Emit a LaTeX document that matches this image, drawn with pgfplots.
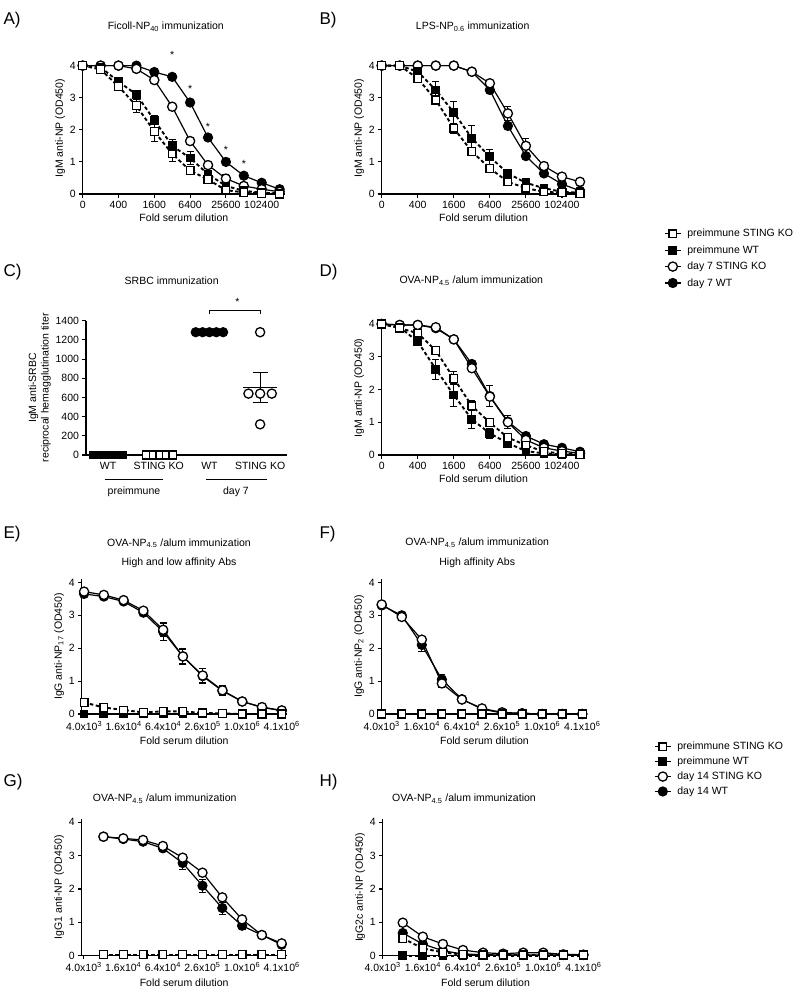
\documentclass[border=0pt]{standalone}
\usepackage{fontspec}
\setmainfont{Liberation Sans}
\usepackage{pgfplots}
\usepackage{pgfplotstable}
\pgfplotsset{compat=1.18}

\newcommand\fs{\fontsize{10.5}{12.5}\selectfont}

\pgfplotsset{
  base/.style={scale only axis, anchor=south west, clip=false,
    axis lines=left, axis line style={-, line width=1.1pt},
    every tick/.style={black, line width=1.1pt}, tick align=outside,
    major tick length=3.5pt,
    tick label style={font=\fs}, label style={font=\fs},
    /pgf/number format/assume math mode=true,
    /pgf/number format/set thousands separator={}},
  od/.style={base, ymin=0, ymax=4.1, ytick={0,1,2,3,4},
    xmin=0, xmax=11.3, xtick={0,2,4,6,8,10},
    xticklabels={0,400,1600,6400,25600,102400},
    xlabel={Fold serum dilution}, xlabel style={yshift=1pt},
    ylabel style={yshift=-2pt}},
  odl/.style={base, ymin=0, ymax=4.1, ytick={0,1,2,3,4},
    xmax=10.25, xtick={0,2,4,6,8,10},
    xticklabels={4.0x10\textsuperscript{3},1.6x10\textsuperscript{4},6.4x10\textsuperscript{4},2.6x10\textsuperscript{5},1.0x10\textsuperscript{6},4.1x10\textsuperscript{6}},
    xlabel={Fold serum dilution}, ylabel style={yshift=-2pt}},
  dwt/.style={black, solid, line width=1.2pt, mark=*, mark size=4.6pt,
    mark options={solid, fill=black, line width=1pt}},
  dko/.style={black, solid, line width=1.2pt, mark=*, mark size=4.6pt,
    mark options={solid, fill=white, line width=1.3pt}},
  pwt/.style={black, line width=1.9pt, dash pattern=on 3.5pt off 2.5pt,
    mark=square*, mark size=3.9pt, mark options={solid, fill=black, line width=1pt}},
  pko/.style={black, line width=1.9pt, dash pattern=on 3.5pt off 2.5pt,
    mark=square*, mark size=3.9pt, mark options={solid, fill=white, line width=1.3pt}},
  eb/.style={error bars/.cd, y dir=both, y explicit,
    error bar style={solid, line width=1pt},
    error mark options={rotate=90, mark size=3.5pt, line width=1pt, solid}},
  leg/.style={hide axis, scale only axis, width=1pt, height=1pt,
    xmin=0, xmax=1, ymin=0, ymax=1, anchor=north west,
    legend style={draw=none, fill=none, at={(0,1)}, anchor=north west,
      font=\fs, inner sep=0pt, column sep=4pt, cells={anchor=west}},
    legend image code/.code={\draw[solid, line width=1.2pt, mark repeat=2, mark phase=2]
      plot coordinates {(0pt,0pt) (8pt,0pt) (16pt,0pt)};}},
}

\newcommand\four[1]{%
  \addplot[dwt, eb] table[x=x, y=dwt, y error=edwt] {#1};
  \addplot[dko, eb] table[x=x, y=dko, y error=edko] {#1};
  \addplot[pwt, eb] table[x=x, y=pwt, y error=epwt] {#1};
  \addplot[pko, eb] table[x=x, y=pko, y error=epko] {#1};
}

% IgM, Ficoll-NP40
\pgfplotstableread{
x pko epko pwt epwt dko edko dwt edwt
0 4.00 0 4.00 0 4.00 0 4.00 0
1 3.88 0.03 3.95 0 4.00 0 4.00 0
2 3.35 0.06 3.50 0.05 4.00 0 4.00 0
3 2.75 0.20 3.10 0.10 3.90 0.03 4.00 0
4 1.95 0.30 2.30 0.15 3.55 0.03 3.80 0.03
5 1.25 0.25 1.50 0.20 2.72 0.05 3.65 0.03
6 0.73 0.10 1.12 0.20 1.65 0.03 2.85 0.08
7 0.45 0.05 0.62 0.10 0.90 0.04 1.76 0.06
8 0.12 0.05 0.25 0.08 0.48 0.12 1.00 0.04
9 0.05 0.02 0.10 0.03 0.25 0.06 0.57 0.03
10 0.02 0 0.04 0.02 0.15 0.03 0.35 0.03
11 0.00 0 0.02 0 0.07 0.02 0.15 0.02
}\dataA

% IgM, LPS-NP0.6
\pgfplotstableread{
x pko epko pwt epwt dko edko dwt edwt
0 4.00 0 4.00 0 4.00 0 4.00 0
1 4.00 0 4.00 0 4.00 0 4.00 0
2 3.60 0.05 3.81 0.05 4.00 0 4.00 0
3 2.93 0.08 3.24 0.28 4.00 0 4.00 0
4 2.05 0.15 2.54 0.34 4.00 0 4.00 0
5 1.32 0.10 1.74 0.38 3.81 0.03 3.81 0.03
6 0.80 0.05 1.16 0.23 3.45 0.08 3.24 0.05
7 0.38 0.04 0.64 0.05 2.51 0.23 2.12 0.05
8 0.18 0.03 0.35 0.04 1.50 0.23 1.18 0.05
9 0.07 0.02 0.18 0.03 0.87 0.05 0.64 0.04
10 0.04 0 0.07 0.02 0.54 0.04 0.31 0.03
11 0.02 0 0.04 0 0.38 0.03 0.10 0.02
}\dataB

% IgM, OVA-NP4.5/alum
\pgfplotstableread{
x pko epko pwt epwt dko edko dwt edwt
0 4.00 0 4.00 0 4.00 0 4.00 0
1 3.87 0.05 3.90 0.05 3.97 0 3.97 0
2 3.72 0.10 3.46 0.08 3.97 0 3.97 0
3 3.19 0.10 2.62 0.30 3.90 0.03 3.87 0.03
4 2.34 0.20 1.83 0.35 3.53 0.05 3.53 0.05
5 1.50 0.15 1.09 0.28 2.65 0.08 2.78 0.08
6 0.99 0.06 0.66 0.15 1.78 0.10 1.80 0.33
7 0.53 0.05 0.36 0.08 1.00 0.08 1.02 0.20
8 0.30 0.04 0.12 0.04 0.46 0.05 0.58 0.04
9 0.10 0.02 0.05 0.02 0.22 0.03 0.33 0.03
10 0.05 0 0.02 0 0.12 0.02 0.22 0.02
11 0.02 0 0.00 0 0.05 0 0.10 0.02
}\dataD

% IgG anti-NP17
\pgfplotstableread{
x pko epko pwt epwt dko edko dwt edwt
0 0.35 0.03 0.00 0 3.72 0.05 3.65 0.05
1 0.20 0.02 0.00 0 3.62 0.04 3.57 0.04
2 0.12 0.02 0.00 0 3.46 0.05 3.42 0.05
3 0.05 0.01 0.00 0 3.14 0.08 3.08 0.10
4 0.08 0.01 0.00 0 2.56 0.20 2.50 0.27
5 0.08 0.01 0.00 0 1.75 0.25 1.75 0.22
6 0.03 0 0.00 0 1.17 0.20 1.15 0.22
7 0.02 0 0.00 0 0.72 0.16 0.70 0.15
8 0.00 0 0.00 0 0.38 0.04 0.38 0.04
9 0.00 0 0.00 0 0.21 0.03 0.20 0.03
10 0.00 0 0.00 0 0.11 0.02 0.10 0.02
}\dataE

% IgG anti-NP2
\pgfplotstableread{
x pko epko pwt epwt dko edko dwt edwt
0 0 0 0 0 3.33 0.03 3.30 0.03
1 0 0 0 0 2.95 0.05 3.00 0.05
2 0 0 0 0 2.26 0.10 2.10 0.20
3 0 0 0 0 0.93 0.12 1.05 0.15
4 0 0 0 0 0.44 0.03 0.45 0.03
5 0 0 0 0 0.17 0.02 0.15 0.02
6 0 0 0 0 0.05 0 0.03 0
7 0 0 0 0 0.02 0 0.02 0
8 0 0 0 0 0 0 0 0
9 0 0 0 0 0 0 0 0
10 0 0 0 0 0 0 0 0
}\dataF

% IgG1 anti-NP
\pgfplotstableread{
x pko epko pwt epwt dko edko dwt edwt
1 0.03 0 0.02 0 3.57 0.03 3.57 0.03
2 0.03 0 0.02 0 3.52 0.03 3.50 0.03
3 0.03 0 0.02 0 3.47 0.03 3.42 0.03
4 0.03 0 0.02 0 3.29 0.04 3.22 0.04
5 0.03 0 0.02 0 2.94 0.06 2.78 0.20
6 0.03 0 0.02 0 2.49 0.05 2.10 0.20
7 0.03 0 0.02 0 1.75 0.05 1.43 0.18
8 0.03 0 0.02 0 1.09 0.04 0.90 0.10
9 0.03 0 0.02 0 0.62 0.03 0.62 0.03
10 0.03 0 0.02 0 0.37 0.03 0.33 0.03
}\dataG

% IgG2c anti-NP
\pgfplotstableread{
x pko epko pwt epwt dko edko dwt edwt
1 0.52 0.05 0.00 0 0.99 0.10 0.68 0.08
2 0.22 0.03 0.00 0 0.57 0.03 0.35 0.03
3 0.10 0.02 0.00 0 0.35 0.03 0.15 0.02
4 0.03 0 0.00 0 0.17 0.02 0.05 0
5 0.02 0 0.00 0 0.09 0 0.03 0
6 0.02 0 0.00 0 0.06 0 0.02 0
7 0.02 0 0.00 0 0.09 0 0.02 0
8 0.02 0 0.00 0 0.09 0 0.02 0
9 0.02 0 0.00 0 0.04 0 0.02 0
10 0.02 0 0.00 0 0.03 0 0.02 0
}\dataH

\begin{document}
\begin{tikzpicture}
\path[use as bounding box] (0,0) rectangle (800pt,-996pt);

% panel letters and titles
\begin{scope}[font=\fontsize{17}{19}\selectfont]
\node[anchor=west] at (0pt,-20pt) {A)};
\node[anchor=west] at (316pt,-20pt) {B)};
\node[anchor=west] at (0pt,-272pt) {C)};
\node[anchor=west] at (316pt,-272pt) {D)};
\node[anchor=west] at (0pt,-534pt) {E)};
\node[anchor=west] at (316pt,-534pt) {F)};
\node[anchor=west] at (0pt,-782pt) {G)};
\node[anchor=west] at (316pt,-782pt) {H)};
\end{scope}
\begin{scope}[font=\fs]
\node at (165.8pt,-26.7pt) {Ficoll-NP\textsubscript{40} immunization};
\node at (472.7pt,-27pt) {LPS-NP\textsubscript{0.6} immunization};
\node at (171.7pt,-280.7pt) {SRBC immunization};
\node at (471.3pt,-280.7pt) {OVA-NP\textsubscript{4.5} /alum immunization};
\node at (179pt,-543.3pt) {OVA-NP\textsubscript{4.5} /alum immunization};
\node at (179pt,-562.7pt) {High and low affinity Abs};
\node at (477.2pt,-542.7pt) {OVA-NP\textsubscript{4.5} /alum immunization};
\node at (477.2pt,-562.7pt) {High affinity Abs};
\node at (164.7pt,-798.7pt) {OVA-NP\textsubscript{4.5} /alum immunization};
\node at (464pt,-798.7pt) {OVA-NP\textsubscript{4.5} /alum immunization};
\end{scope}

% A
\begin{axis}[od, at={(82.7pt,-194pt)}, width=202.3pt, height=131.6pt,
  ylabel={IgM anti-NP (OD450)}]
\four{\dataA}
\node[font=\fs] at (axis cs:5,4.33) {*};
\node[font=\fs] at (axis cs:6,3.26) {*};
\node[font=\fs] at (axis cs:7,2.10) {*};
\node[font=\fs] at (axis cs:8,1.39) {*};
\node[font=\fs] at (axis cs:9,0.94) {*};
\end{axis}

% B
\begin{axis}[od, at={(381.7pt,-194pt)}, width=203.7pt, height=131.6pt,
  ylabel={IgM anti-NP (OD450)}]
\four{\dataB}
\end{axis}

% C
\begin{axis}[base, at={(86pt,-455pt)}, width=201pt, height=134.3pt,
  xmin=0.565, xmax=4.53, ymin=0, ymax=1400, ytick={0,200,...,1400},
  xtick={1,2,3,4}, xticklabels={WT,STING KO,WT,STING KO},
  xtick style={draw=none},
  ylabel={IgM anti-SRBC\\reciprocal hemagglutination titer},
  ylabel style={align=center, yshift=-2pt}]
\addplot[only marks, mark=square*, mark size=3.9pt, mark options={fill=black, line width=1pt}]
  coordinates {(0.72,0) (0.86,0) (1,0) (1.14,0) (1.28,0)};
\addplot[only marks, mark=square*, mark size=3.9pt, mark options={fill=white, line width=1.3pt}]
  coordinates {(1.76,0) (1.89,0) (2.02,0) (2.15,0) (2.28,0)};
\addplot[only marks, mark=*, mark size=4.6pt, mark options={fill=black, line width=1pt}]
  coordinates {(2.73,1280) (2.865,1280) (3,1280) (3.135,1280) (3.27,1280)};
\addplot[only marks, mark=*, mark size=4.6pt, mark options={fill=white, line width=1.3pt}]
  coordinates {(4,1280) (3.77,640) (4,640) (4.23,640) (4,320)};
\addplot[black, line width=1.2pt] coordinates {(3.67,704) (4.33,704)};
\addplot[black, line width=1.2pt] coordinates {(4,547) (4,861)};
\addplot[black, line width=1.2pt] coordinates {(3.85,861) (4.15,861)};
\addplot[black, line width=1.2pt] coordinates {(3.85,547) (4.15,547)};
\draw[line width=1pt] (axis cs:3,1465) -- (axis cs:3,1504) -- (axis cs:4,1504) -- (axis cs:4,1465);
\node[font=\fs] at (axis cs:3.55,1600) {*};
\end{axis}
\draw[line width=0.8pt] (105pt,-479pt) -- (163pt,-479pt);
\draw[line width=0.8pt] (206pt,-479pt) -- (267pt,-479pt);
\node[font=\fs] at (134pt,-492pt) {preimmune};
\node[font=\fs] at (236pt,-492pt) {day 7};

% D
\begin{axis}[od, at={(381.7pt,-455pt)}, width=203.7pt, height=134.3pt,
  ylabel={IgM anti-NP (OD450)}]
\four{\dataD}
\end{axis}

% E
\begin{axis}[odl, at={(81.7pt,-714pt)}, xmin=-0.12, width=205pt, height=134.9pt,
  ylabel={IgG anti-NP\textsubscript{17} (OD450)}]
\four{\dataE}
\end{axis}

% F
\begin{axis}[odl, at={(381.7pt,-714pt)}, xmin=0, width=205.6pt, height=134.9pt,
  ylabel={IgG anti-NP\textsubscript{2} (OD450)}]
\four{\dataF}
\end{axis}

% G
\begin{axis}[odl, at={(81.7pt,-955.7pt)}, xmin=-0.1, width=204.9pt, height=136.7pt,
  ylabel={IgG1 anti-NP (OD450)}]
\four{\dataG}
\end{axis}

% H
\begin{axis}[odl, at={(382.7pt,-955.7pt)}, xmin=0, width=205.7pt, height=136.7pt,
  ylabel={IgG2c anti-NP (OD450)}]
\four{\dataH}
\end{axis}

% legends
\begin{axis}[leg, at={(664pt,-227pt)}, legend style={row sep=3.3pt}]
\addlegendimage{pko}\addlegendentry{preimmune STING KO}
\addlegendimage{pwt}\addlegendentry{preimmune WT}
\addlegendimage{dko}\addlegendentry{day 7 STING KO}
\addlegendimage{dwt}\addlegendentry{day 7 WT}
\end{axis}
\begin{axis}[leg, at={(654pt,-740pt)}, legend style={row sep=1.8pt}]
\addlegendimage{pko}\addlegendentry{preimmune STING KO}
\addlegendimage{pwt}\addlegendentry{preimmune WT}
\addlegendimage{dko}\addlegendentry{day 14 STING KO}
\addlegendimage{dwt}\addlegendentry{day 14 WT}
\end{axis}
\end{tikzpicture}
\end{document}
